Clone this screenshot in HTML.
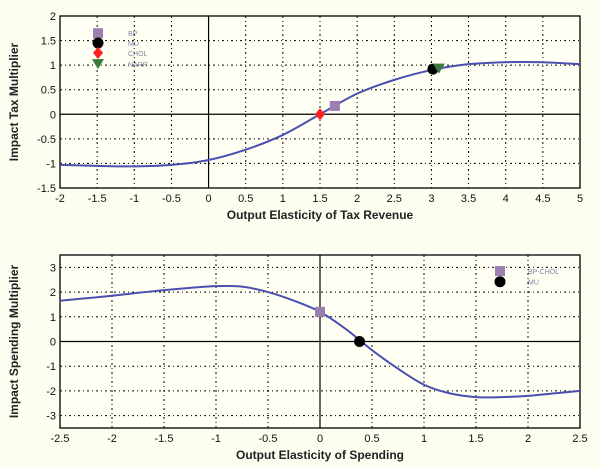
<!DOCTYPE html>
<html><head><meta charset="utf-8"><style>
html,body{margin:0;padding:0;background:#fefef0;}
svg{display:block;font-family:"Liberation Sans",Arial,sans-serif;}
</style></head><body>
<svg id="chart" width="600" height="468"></svg>
<script>
// ---- Top chart data ----
const taxX = [-2,-1.5,-1,-0.5,0,0.5,1,1.5,2,2.5,3,3.5,4,4.5,5];
const taxY = [-1.03,-1.05,-1.06,-1.03,-0.93,-0.72,-0.42,0,0.42,0.7,0.9,1.02,1.06,1.06,1.02];
const taxXTicks = [-2,-1.5,-1,-0.5,0,0.5,1,1.5,2,2.5,3,3.5,4,4.5,5];
const taxYTicks = [-1.5,-1,-0.5,0,0.5,1,1.5,2];
const taxMarkerNames = ["BP","MU","CHOL","NARR"];
const taxMarkerX = [1.7,3.02,1.5,3.1];
const taxMarkerY = [0.17,0.92,0,0.93];
const taxLegendY = [1.65,1.45,1.25,1.02];
// ---- Bottom chart data ----
const spX = [-2.5,-2.25,-2,-1.75,-1.5,-1.25,-1,-0.75,-0.5,-0.25,0,0.25,0.5,0.75,1,1.25,1.5,1.75,2,2.25,2.5];
const spY = [1.65,1.75,1.85,1.97,2.08,2.17,2.24,2.22,2.0,1.65,1.2,0.5,-0.35,-1.1,-1.75,-2.1,-2.25,-2.25,-2.2,-2.1,-2.0];
const spXTicks = [-2.5,-2,-1.5,-1,-0.5,0,0.5,1,1.5,2,2.5];
const spYTicks = [-3,-2,-1,0,1,2,3];
const spMarkerNames = ["BP-CHOL","MU"];
const spMarkerX = [0,0.38];
const spMarkerY = [1.2,0];
const spLegendY = [2.85,2.42];

const NS="http://www.w3.org/2000/svg";
const svg=document.getElementById('chart');
function mk(tag,attrs,parent,text){const e=document.createElementNS(NS,tag);for(const k in attrs)e.setAttribute(k,attrs[k]);if(text!==undefined)e.textContent=text;(parent||svg).appendChild(e);return e;}
const styles={BP:{shape:'square',color:'#9b7fb0'},MU:{shape:'circle',color:'#000'},CHOL:{shape:'diamond',color:'#ff2020'},NARR:{shape:'tri',color:'#3a7a3a'},'BP-CHOL':{shape:'square',color:'#9b7fb0'}};
function marker(g,shape,color,x,y,name){
  let e;
  if(shape==='square') e=mk('rect',{x:x-5,y:y-5,width:10,height:10,fill:color},g);
  else if(shape==='circle') e=mk('circle',{cx:x,cy:y,r:5.5,fill:color},g);
  else if(shape==='diamond') e=mk('polygon',{points:`${x},${y-6} ${x+5},${y} ${x},${y+6} ${x-5},${y}`,fill:color},g);
  else e=mk('polygon',{points:`${x-6},${y-5} ${x+6},${y-5} ${x},${y+5}`,fill:color},g);
  
  
}
function panel(o){
  const g=mk('g',{});
  
  
  const sx=v=>o.L+(v-o.x0)/(o.x1-o.x0)*(o.R-o.L);
  const sy=v=>o.B-(v-o.y0)/(o.y1-o.y0)*(o.B-o.T);
  const r=mk('rect',{x:o.L,y:o.T,width:o.R-o.L,height:o.B-o.T,fill:'#fffff4',stroke:'none'},g);
  
  
  o.xt.forEach(v=>{
    const X=sx(v);
    if(v!==o.x0&&v!==o.x1&&v!==0){const l=mk('line',{x1:X,y1:o.T,x2:X,y2:o.B,stroke:'#000','stroke-width':1,'stroke-dasharray':'2,3,1,3'},g);}
    const t=mk('text',{x:X,y:o.B+14,'text-anchor':'middle','font-size':11,fill:'#111'},g,String(v));
    
    
  });
  o.yt.forEach(v=>{
    const Y=sy(v);
    if(v!==o.y0&&v!==o.y1&&v!==0){const l=mk('line',{x1:o.L,y1:Y,x2:o.R,y2:Y,stroke:'#000','stroke-width':1,'stroke-dasharray':'2,3,1,3'},g);}
    const t=mk('text',{x:o.L-4,y:Y+4,'text-anchor':'end','font-size':11,fill:'#111'},g,String(v));
    
    
  });
  const zx=mk('line',{x1:o.L,y1:sy(0),x2:o.R,y2:sy(0),stroke:'#000','stroke-width':1.2},g);
  
  
  const zy=mk('line',{x1:sx(0),y1:o.T,x2:sx(0),y2:o.B,stroke:'#000','stroke-width':1.2},g);
  
  
  const fr=mk('rect',{x:o.L,y:o.T,width:o.R-o.L,height:o.B-o.T,fill:'none',stroke:'#000','stroke-width':1.3},g);
  
  
  const P=o.cx.map((v,i)=>[sx(v),sy(o.cy[i])]);
  let d=`M${P[0][0]},${P[0][1]}`;
  for(let i=0;i<P.length-1;i++){const p0=P[i-1]||P[i],p1=P[i],p2=P[i+1],p3=P[i+2]||P[i+1];
    d+=` C${p1[0]+(p2[0]-p0[0])/6},${p1[1]+(p2[1]-p0[1])/6} ${p2[0]-(p3[0]-p1[0])/6},${p2[1]-(p3[1]-p1[1])/6} ${p2[0]},${p2[1]}`;}
  const c=mk('path',{d:d,fill:'none',stroke:'#4a4fb0','stroke-width':2},g);
  
  
  o.mn.forEach((n,i)=>{const s=styles[n];marker(g,s.shape,s.color,sx(o.mx[i]),sy(o.my[i]),'point-'+n.toLowerCase());
    marker(g,s.shape,s.color,o.legX,sy(o.ly[i]),'legend-marker-'+n.toLowerCase());
    const t=mk('text',{x:o.legX+o.legOff,y:sy(o.ly[i])+3,'font-size':7,fill:'#8a7fa0'},g,n);
    
    
  });
  const xt=mk('text',{x:(o.L+o.R)/2,y:o.B+31,'text-anchor':'middle','font-size':12,'font-weight':'bold',fill:'#222'},g,o.xl);
  
  
  const yc=(o.T+o.B)/2;
  const yt=mk('text',{x:18,y:yc,'text-anchor':'middle','font-size':12,'font-weight':'bold',fill:'#222',transform:`rotate(-90 18 ${yc})`},g,o.yl);
  
  
}
panel({name:'tax-multiplier-chart',L:60,R:580,T:16,B:188,x0:-2,x1:5,y0:-1.5,y1:2,xt:taxXTicks,yt:taxYTicks,cx:taxX,cy:taxY,
  mn:taxMarkerNames,mx:taxMarkerX,my:taxMarkerY,ly:taxLegendY,legX:98,legOff:30,
  xl:'Output Elasticity of Tax Revenue',yl:'Impact Tax Multiplier'});
panel({name:'spending-multiplier-chart',L:60,R:580,T:255,B:428,x0:-2.5,x1:2.5,y0:-3.5,y1:3.5,xt:spXTicks,yt:spYTicks,cx:spX,cy:spY,
  mn:spMarkerNames,mx:spMarkerX,my:spMarkerY,ly:spLegendY,legX:500,legOff:28,
  xl:'Output Elasticity of Spending',yl:'Impact Spending Multiplier'});
</script>
</body></html>
